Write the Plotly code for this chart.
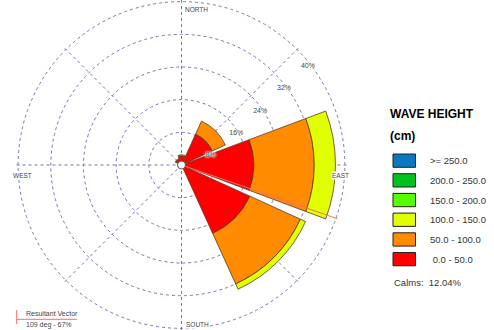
import plotly.graph_objects as go

W, H = 494, 330

# ---- data ----
directions = [0, 45, 90, 135, 180, 225, 270, 315]
bin_labels = [">= 250.0", "200.0 - 250.0", "150.0 - 200.0", "100.0 - 150.0", "50.0 - 100.0", " 0.0 - 50.0"]
bin_colors = ["#0a78be", "#00c21f", "#55ff00", "#e0ff00", "#ff8c00", "#ff0000"]
# percent frequency per direction for each wave-height bin
v_0_50 = [2.2, 8.3, 17.7, 18.4, 0.5, 0.4, 0.8, 1.5]
v_50_100 = [0.3, 3.5, 14.8, 13.6, 0.0, 0.0, 0.0, 0.2]
v_100_150 = [0.0, 0.0, 5.2, 1.4, 0.0, 0.0, 0.0, 0.0]
v_150_200 = [0, 0, 0, 0, 0, 0, 0, 0]
v_200_250 = [0, 0, 0, 0, 0, 0, 0, 0]
v_250 = [0, 0, 0, 0, 0, 0, 0, 0]
radial_ticks = [8, 16, 24, 32, 40]
radial_ticktext = ["8%", "16%", "24%", "32%", "40%"]
label_angle = 47
compass_vals = [0, 90, 180, 270]
compass_text = ["NORTH", "EAST", "SOUTH", "WEST"]
calms = 12.04
resultant_dir = 109
resultant_pct = 67

series = [
    (" 0.0 - 50.0", v_0_50, "#ff0000"),
    ("50.0 - 100.0", v_50_100, "#ff8c00"),
    ("100.0 - 150.0", v_100_150, "#e0ff00"),
    ("150.0 - 200.0", v_150_200, "#55ff00"),
    ("200.0 - 250.0", v_200_250, "#00c21f"),
    (">= 250.0", v_250, "#0a78be"),
]

fig = go.Figure()
for name, vals, col in series:
    fig.add_trace(go.Barpolar(
        r=vals, theta=directions, width=[41] * len(directions), name=name,
        marker=dict(color=col, line=dict(color="#5a3a20", width=0.8)),
        showlegend=False, hoverinfo="skip",
    ))

# resultant vector
fig.add_trace(go.Scatterpolar(
    r=[0, 44], theta=[resultant_dir, resultant_dir], mode="lines",
    line=dict(color="#ff6a6a", width=1), cliponaxis=False,
    showlegend=False, hoverinfo="skip",
))
# calm circle
fig.add_trace(go.Scatterpolar(
    r=[0], theta=[0], mode="markers",
    marker=dict(size=8, color="white", line=dict(color="#555", width=1)),
    showlegend=False, hoverinfo="skip",
))
# ring labels along the NE diagonal
fig.add_trace(go.Scatterpolar(
    r=radial_ticks, theta=[label_angle] * len(radial_ticks), mode="text",
    text=["<br>" + t for t in radial_ticktext], textposition="bottom right",
    textfont=dict(size=7, color="#444", family="Liberation Sans, Arial, sans-serif",
                  shadow="white 0px 0px 1px, white 0px 0px 2px, white 0px 0px 2px, white 0px 0px 3px"),
    cliponaxis=False, showlegend=False, hoverinfo="skip",
))

R = 165
cx, cy = 181.5, 165
grid_col = "#7474b8"
fig.update_layout(
    width=W, height=H, margin=dict(l=0, r=0, t=0, b=0),
    paper_bgcolor="white", plot_bgcolor="white",
    font=dict(family="Liberation Sans, Arial, sans-serif"),
    polar=dict(
        domain=dict(x=[(cx - R) / W, (cx + R) / W], y=[0, 1]),
        bgcolor="white",
        barmode="stack",
        radialaxis=dict(
            range=[0, 40.4], tickvals=radial_ticks, showticklabels=False,
            showline=False, ticks="",
            gridcolor=grid_col, griddash="dot", gridwidth=1,
        ),
        angularaxis=dict(
            rotation=90, direction="clockwise",
            tickvals=directions, showticklabels=False, ticks="",
            showline=False, gridcolor=grid_col, griddash="dot", gridwidth=1,
        ),
    ),
)

ann = []
# compass labels
pos = {"NORTH": (184, 10, "left"), "EAST": (331, 175, "left"), "SOUTH": (185, 324, "left"), "WEST": (12, 175, "left")}
for t in compass_text:
    x, y, a = pos[t]
    ann.append(dict(x=x / W, y=1 - y / H, xref="paper", yref="paper", text=t, showarrow=False,
                    xanchor=a, yanchor="middle", font=dict(size=6.5, color="#444"),
                    bgcolor="white", borderpad=0))

# legend
ann.append(dict(x=388 / W, y=1 - 114.5 / H, xref="paper", yref="paper", text="<b>WAVE HEIGHT</b>",
                showarrow=False, xanchor="left", yanchor="middle", font=dict(size=12, color="black")))
ann.append(dict(x=388 / W, y=1 - 136 / H, xref="paper", yref="paper", text="<b>(cm)</b>",
                showarrow=False, xanchor="left", yanchor="middle", font=dict(size=12, color="black")))
shapes = []
for i, (lab, col) in enumerate(zip(bin_labels, bin_colors)):
    y0 = 154 + i * 19.7
    shapes.append(dict(type="rect", xref="paper", yref="paper",
                       x0=393 / W, x1=415.5 / W, y0=1 - y0 / H, y1=1 - (y0 + 13.3) / H,
                       fillcolor=col, line=dict(color="#222", width=1)))
    ann.append(dict(x=428 / W, y=1 - (y0 + 6.7) / H, xref="paper", yref="paper",
                    text=lab.replace(" ", "&nbsp;", 1) if lab.startswith(" ") else lab,
                    showarrow=False, xanchor="left", yanchor="middle", font=dict(size=9.5, color="#333")))
ann.append(dict(x=392 / W, y=1 - 282.5 / H, xref="paper", yref="paper", text=f"Calms:&nbsp; {calms:.2f}%",
                showarrow=False, xanchor="left", yanchor="middle", font=dict(size=9.5, color="#333")))

# resultant vector key
shapes.append(dict(type="line", xref="paper", yref="paper", x0=16.7 / W, x1=16.7 / W,
                   y0=1 - 310 / H, y1=1 - 324 / H, line=dict(color="#ff6a6a", width=1)))
shapes.append(dict(type="line", xref="paper", yref="paper", x0=16.7 / W, x1=77 / W,
                   y0=1 - 319.3 / H, y1=1 - 319.3 / H, line=dict(color="#ff6a6a", width=1)))
ann.append(dict(x=24 / W, y=1 - 313.3 / H, xref="paper", yref="paper", text="Resultant Vector",
                showarrow=False, xanchor="left", yanchor="middle", font=dict(size=7, color="#444")))
ann.append(dict(x=24 / W, y=1 - 325 / H, xref="paper", yref="paper", text=f"{resultant_dir} deg - {resultant_pct}%",
                showarrow=False, xanchor="left", yanchor="middle", font=dict(size=7, color="#444")))

fig.update_layout(annotations=ann, shapes=shapes)
fig.write_html("out.html")
